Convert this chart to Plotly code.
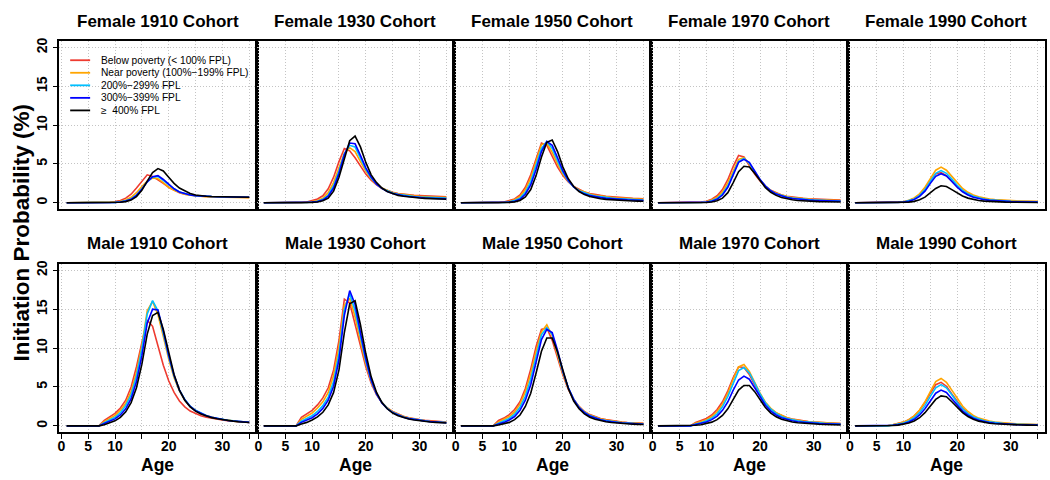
import plotly.graph_objects as go

# ---------------- data ----------------
AGES = list(range(1, 36))
GROUPS = ["Below poverty (< 100% FPL)", "Near poverty (100%\u2212199% FPL)",
          "200%\u2212299% FPL", "300%\u2212399% FPL", "\u2265  400% FPL"]
COLORS = ["#EE3B30", "#FFA500", "#00BFFF", "#0000FF", "#000000"]
PANEL_TITLES = ["Female 1910 Cohort", "Female 1930 Cohort", "Female 1950 Cohort",
                "Female 1970 Cohort", "Female 1990 Cohort",
                "Male 1910 Cohort", "Male 1930 Cohort", "Male 1950 Cohort",
                "Male 1970 Cohort", "Male 1990 Cohort"]
X_TICKS = [0, 5, 10, 15, 20, 25, 30, 35]
X_TICK_LABELS = ["0", "5", "10", "", "20", "", "30", ""]
Y_TICKS = [0, 5, 10, 15, 20]
Y_TICK_LABELS = ["0", "5", "10", "15", "20"]

F1910_R = [0, 0, 0, 0, 0, 0, 0, 0, 0.05, 0.15, 0.3, 0.6, 1.1, 1.9, 2.8, 3.6, 3.4, 3.0, 2.5, 2.0, 1.6, 1.3, 1.1, 1.0, 0.9, 0.85, 0.8, 0.78, 0.76, 0.75, 0.74, 0.73, 0.72, 0.71, 0.7]
F1910_O = [0, 0, 0, 0, 0, 0, 0, 0, 0.02, 0.08, 0.18, 0.35, 0.7, 1.3, 2.1, 2.8, 3.2, 3.1, 2.6, 2.0, 1.6, 1.3, 1.1, 0.97, 0.88, 0.82, 0.78, 0.75, 0.73, 0.71, 0.7, 0.69, 0.68, 0.67, 0.66]
F1910_C = [0, 0, 0, 0, 0, 0, 0, 0, 0.01, 0.05, 0.12, 0.25, 0.5, 1.0, 1.8, 2.7, 3.3, 3.4, 2.9, 2.3, 1.8, 1.4, 1.15, 1.0, 0.92, 0.86, 0.82, 0.8, 0.78, 0.77, 0.76, 0.75, 0.74, 0.73, 0.72]
F1910_B = [0, 0, 0, 0, 0, 0, 0, 0, 0.01, 0.04, 0.1, 0.22, 0.45, 0.95, 1.75, 2.7, 3.35, 3.5, 3.0, 2.35, 1.8, 1.4, 1.15, 1.0, 0.92, 0.86, 0.82, 0.8, 0.78, 0.77, 0.76, 0.75, 0.74, 0.73, 0.72]
F1910_K = [0, 0, 0, 0, 0, 0, 0, 0, 0.0, 0.02, 0.06, 0.15, 0.35, 0.8, 1.6, 2.8, 3.9, 4.4, 4.1, 3.3, 2.5, 1.9, 1.5, 1.2, 1.0, 0.9, 0.84, 0.8, 0.78, 0.76, 0.75, 0.74, 0.73, 0.72, 0.71]

F1930_R = [0, 0, 0, 0, 0, 0, 0, 0, 0.1, 0.25, 0.5, 0.9, 1.8, 3.3, 5.3, 7.0, 6.7, 5.8, 4.7, 3.7, 2.9, 2.3, 1.85, 1.55, 1.35, 1.2, 1.1, 1.02, 0.96, 0.92, 0.88, 0.85, 0.82, 0.8, 0.78]
F1930_O = [0, 0, 0, 0, 0, 0, 0, 0, 0.05, 0.15, 0.3, 0.6, 1.3, 2.6, 4.5, 6.4, 7.1, 6.6, 5.3, 4.1, 3.1, 2.4, 1.9, 1.55, 1.3, 1.15, 1.05, 0.95, 0.9, 0.85, 0.8, 0.77, 0.74, 0.72, 0.7]
F1930_C = [0, 0, 0, 0, 0, 0, 0, 0, 0.03, 0.1, 0.2, 0.45, 1.0, 2.2, 4.1, 6.3, 7.4, 7.2, 5.8, 4.3, 3.2, 2.4, 1.85, 1.5, 1.25, 1.08, 0.96, 0.87, 0.8, 0.74, 0.7, 0.67, 0.64, 0.62, 0.6]
F1930_B = [0, 0, 0, 0, 0, 0, 0, 0, 0.02, 0.08, 0.15, 0.35, 0.85, 1.9, 3.8, 6.2, 7.7, 7.6, 6.1, 4.5, 3.3, 2.4, 1.85, 1.45, 1.2, 1.03, 0.9, 0.8, 0.72, 0.66, 0.62, 0.59, 0.56, 0.54, 0.52]
F1930_K = [0, 0, 0, 0, 0, 0, 0, 0, 0.01, 0.05, 0.1, 0.25, 0.6, 1.5, 3.3, 5.8, 8.0, 8.6, 7.2, 5.2, 3.6, 2.6, 1.9, 1.45, 1.15, 0.95, 0.83, 0.74, 0.67, 0.61, 0.57, 0.53, 0.5, 0.48, 0.46]

F1950_R = [0, 0, 0, 0, 0, 0, 0, 0, 0.1, 0.25, 0.5, 1.0, 2.0, 3.6, 5.8, 7.7, 7.4, 6.0, 4.6, 3.5, 2.7, 2.1, 1.7, 1.4, 1.2, 1.05, 0.95, 0.85, 0.78, 0.72, 0.66, 0.62, 0.58, 0.55, 0.52]
F1950_O = [0, 0, 0, 0, 0, 0, 0, 0, 0.07, 0.18, 0.4, 0.8, 1.7, 3.2, 5.4, 7.5, 7.7, 6.5, 5.0, 3.7, 2.8, 2.1, 1.65, 1.35, 1.12, 0.97, 0.86, 0.77, 0.7, 0.64, 0.59, 0.55, 0.51, 0.48, 0.45]
F1950_C = [0, 0, 0, 0, 0, 0, 0, 0, 0.04, 0.12, 0.28, 0.6, 1.35, 2.7, 4.8, 7.0, 7.9, 7.0, 5.4, 3.9, 2.8, 2.05, 1.55, 1.25, 1.02, 0.87, 0.76, 0.67, 0.6, 0.54, 0.49, 0.45, 0.42, 0.39, 0.36]
F1950_B = [0, 0, 0, 0, 0, 0, 0, 0, 0.03, 0.08, 0.2, 0.45, 1.1, 2.3, 4.3, 6.6, 7.9, 7.4, 5.8, 4.1, 2.9, 2.05, 1.5, 1.15, 0.92, 0.77, 0.66, 0.57, 0.5, 0.45, 0.41, 0.37, 0.34, 0.31, 0.29]
F1950_K = [0, 0, 0, 0, 0, 0, 0, 0, 0.02, 0.05, 0.12, 0.3, 0.75, 1.7, 3.5, 5.9, 7.8, 8.1, 6.6, 4.6, 3.1, 2.1, 1.45, 1.05, 0.8, 0.63, 0.52, 0.44, 0.38, 0.33, 0.29, 0.26, 0.23, 0.21, 0.19]

F1970_R = [0, 0, 0, 0, 0, 0, 0, 0, 0.08, 0.2, 0.45, 0.9, 1.7, 3.0, 4.7, 6.1, 5.9, 4.8, 3.7, 2.8, 2.1, 1.6, 1.25, 1.0, 0.85, 0.73, 0.64, 0.57, 0.52, 0.48, 0.45, 0.42, 0.39, 0.37, 0.35]
F1970_O = [0, 0, 0, 0, 0, 0, 0, 0, 0.05, 0.15, 0.35, 0.7, 1.4, 2.6, 4.2, 5.6, 5.8, 5.0, 3.9, 2.9, 2.15, 1.6, 1.22, 0.96, 0.8, 0.68, 0.59, 0.52, 0.47, 0.43, 0.39, 0.36, 0.33, 0.31, 0.29]
F1970_C = [0, 0, 0, 0, 0, 0, 0, 0, 0.04, 0.1, 0.25, 0.55, 1.15, 2.2, 3.8, 5.3, 5.7, 5.1, 4.0, 2.95, 2.15, 1.55, 1.15, 0.9, 0.73, 0.61, 0.52, 0.45, 0.4, 0.36, 0.32, 0.29, 0.27, 0.25, 0.23]
F1970_B = [0, 0, 0, 0, 0, 0, 0, 0, 0.03, 0.08, 0.2, 0.45, 1.0, 2.0, 3.6, 5.2, 5.6, 5.2, 4.1, 3.0, 2.15, 1.55, 1.12, 0.85, 0.68, 0.56, 0.47, 0.4, 0.35, 0.31, 0.28, 0.25, 0.23, 0.21, 0.19]
F1970_K = [0, 0, 0, 0, 0, 0, 0, 0, 0.01, 0.04, 0.1, 0.25, 0.6, 1.3, 2.6, 4.0, 4.7, 4.6, 3.8, 2.8, 1.95, 1.35, 0.95, 0.68, 0.5, 0.38, 0.3, 0.24, 0.2, 0.17, 0.15, 0.13, 0.12, 0.11, 0.1]

F1990_R = [0, 0, 0, 0, 0, 0, 0, 0, 0.05, 0.12, 0.28, 0.55, 1.05, 1.8, 2.8, 3.7, 3.9, 3.5, 2.8, 2.1, 1.55, 1.15, 0.85, 0.65, 0.5, 0.4, 0.33, 0.28, 0.24, 0.21, 0.19, 0.17, 0.16, 0.15, 0.14]
F1990_O = [0, 0, 0, 0, 0, 0, 0, 0, 0.06, 0.14, 0.32, 0.62, 1.15, 2.0, 3.1, 4.2, 4.6, 4.2, 3.4, 2.55, 1.85, 1.35, 1.0, 0.76, 0.6, 0.48, 0.4, 0.34, 0.3, 0.27, 0.24, 0.22, 0.2, 0.19, 0.18]
F1990_C = [0, 0, 0, 0, 0, 0, 0, 0, 0.04, 0.1, 0.25, 0.5, 0.95, 1.7, 2.75, 3.8, 4.15, 3.8, 3.05, 2.25, 1.6, 1.15, 0.83, 0.62, 0.47, 0.37, 0.3, 0.25, 0.21, 0.18, 0.16, 0.14, 0.13, 0.12, 0.11]
F1990_B = [0, 0, 0, 0, 0, 0, 0, 0, 0.03, 0.08, 0.2, 0.42, 0.82, 1.5, 2.5, 3.4, 3.75, 3.45, 2.75, 2.0, 1.42, 1.0, 0.72, 0.53, 0.4, 0.31, 0.25, 0.2, 0.17, 0.15, 0.13, 0.11, 0.1, 0.09, 0.08]
F1990_K = [0, 0, 0, 0, 0, 0, 0, 0, 0.01, 0.03, 0.08, 0.18, 0.38, 0.72, 1.25, 1.85, 2.2, 2.1, 1.7, 1.25, 0.88, 0.6, 0.41, 0.29, 0.21, 0.16, 0.12, 0.1, 0.08, 0.07, 0.06, 0.05, 0.05, 0.04, 0.04]

M1910_R = [0, 0, 0, 0, 0, 0, 0, 0.7, 1.1, 1.6, 2.3, 3.3, 5.0, 7.6, 10.7, 13.6, 12.8, 10.3, 7.8, 5.8, 4.3, 3.2, 2.45, 1.9, 1.55, 1.3, 1.12, 0.98, 0.87, 0.77, 0.68, 0.6, 0.54, 0.49, 0.45]
M1910_O = [0, 0, 0, 0, 0, 0, 0, 0.55, 0.9, 1.35, 2.0, 2.9, 4.4, 6.9, 10.3, 14.8, 16.0, 14.3, 11.5, 8.6, 6.2, 4.5, 3.3, 2.5, 2.0, 1.6, 1.32, 1.1, 0.94, 0.81, 0.7, 0.62, 0.55, 0.5, 0.46]
M1910_C = [0, 0, 0, 0, 0, 0, 0, 0.4, 0.7, 1.1, 1.7, 2.6, 4.0, 6.4, 9.9, 14.4, 16.1, 14.8, 11.9, 8.9, 6.4, 4.6, 3.4, 2.55, 2.0, 1.62, 1.34, 1.12, 0.96, 0.83, 0.72, 0.64, 0.57, 0.51, 0.47]
M1910_B = [0, 0, 0, 0, 0, 0, 0, 0.3, 0.55, 0.9, 1.4, 2.2, 3.5, 5.7, 9.0, 13.2, 15.0, 14.9, 12.2, 9.1, 6.5, 4.6, 3.35, 2.5, 1.95, 1.58, 1.3, 1.1, 0.94, 0.81, 0.7, 0.62, 0.55, 0.5, 0.45]
M1910_K = [0, 0, 0, 0, 0, 0, 0, 0.15, 0.35, 0.65, 1.1, 1.8, 3.0, 4.9, 7.9, 11.8, 14.2, 14.6, 12.4, 9.3, 6.6, 4.6, 3.3, 2.45, 1.9, 1.52, 1.26, 1.06, 0.91, 0.79, 0.69, 0.61, 0.54, 0.49, 0.44]

M1930_R = [0, 0, 0, 0, 0, 0, 0, 1.1, 1.5, 2.0, 2.7, 3.6, 4.9, 7.2, 11.0, 16.3, 15.8, 13.0, 10.2, 7.6, 5.5, 4.0, 3.0, 2.3, 1.85, 1.5, 1.25, 1.05, 0.9, 0.8, 0.72, 0.65, 0.6, 0.55, 0.5]
M1930_O = [0, 0, 0, 0, 0, 0, 0, 0.85, 1.2, 1.65, 2.3, 3.1, 4.3, 6.5, 10.2, 15.5, 16.4, 14.0, 10.9, 8.0, 5.7, 4.1, 3.0, 2.3, 1.8, 1.45, 1.2, 1.0, 0.87, 0.76, 0.67, 0.6, 0.54, 0.5, 0.46]
M1930_C = [0, 0, 0, 0, 0, 0, 0, 0.6, 0.9, 1.3, 1.85, 2.6, 3.7, 5.7, 9.3, 14.9, 17.0, 14.8, 11.5, 8.3, 5.8, 4.1, 3.0, 2.25, 1.75, 1.4, 1.15, 0.97, 0.84, 0.73, 0.64, 0.57, 0.52, 0.47, 0.43]
M1930_B = [0, 0, 0, 0, 0, 0, 0, 0.45, 0.7, 1.05, 1.55, 2.25, 3.3, 5.1, 8.5, 14.2, 17.4, 15.6, 12.0, 8.6, 5.9, 4.1, 2.95, 2.2, 1.7, 1.35, 1.1, 0.93, 0.8, 0.7, 0.62, 0.55, 0.5, 0.45, 0.41]
M1930_K = [0, 0, 0, 0, 0, 0, 0, 0.25, 0.45, 0.75, 1.15, 1.75, 2.7, 4.3, 7.2, 12.0, 15.7, 16.1, 13.0, 9.3, 6.3, 4.3, 3.0, 2.2, 1.65, 1.3, 1.05, 0.88, 0.75, 0.65, 0.57, 0.5, 0.45, 0.41, 0.37]

M1950_R = [0, 0, 0, 0, 0, 0, 0, 0.7, 1.0, 1.45, 2.1, 3.1, 4.8, 7.3, 10.2, 12.4, 12.6, 11.0, 8.7, 6.5, 4.7, 3.4, 2.5, 1.85, 1.45, 1.15, 0.95, 0.8, 0.68, 0.58, 0.5, 0.44, 0.39, 0.35, 0.32]
M1950_O = [0, 0, 0, 0, 0, 0, 0, 0.5, 0.8, 1.2, 1.8, 2.8, 4.4, 6.7, 9.6, 12.1, 13.0, 11.6, 9.1, 6.7, 4.8, 3.4, 2.45, 1.8, 1.4, 1.1, 0.9, 0.75, 0.63, 0.54, 0.47, 0.41, 0.36, 0.32, 0.29]
M1950_C = [0, 0, 0, 0, 0, 0, 0, 0.35, 0.6, 0.95, 1.5, 2.4, 3.8, 6.0, 8.9, 11.7, 12.6, 11.8, 9.4, 6.9, 4.9, 3.4, 2.4, 1.75, 1.32, 1.03, 0.83, 0.68, 0.57, 0.48, 0.41, 0.36, 0.32, 0.28, 0.25]
M1950_B = [0, 0, 0, 0, 0, 0, 0, 0.25, 0.45, 0.75, 1.2, 2.0, 3.3, 5.3, 8.2, 11.1, 12.4, 12.0, 9.7, 7.0, 4.9, 3.4, 2.35, 1.7, 1.27, 0.98, 0.78, 0.63, 0.52, 0.44, 0.38, 0.33, 0.29, 0.25, 0.22]
M1950_K = [0, 0, 0, 0, 0, 0, 0, 0.12, 0.25, 0.45, 0.8, 1.4, 2.5, 4.2, 6.8, 9.6, 11.3, 11.3, 9.5, 7.0, 4.8, 3.2, 2.2, 1.55, 1.12, 0.85, 0.66, 0.52, 0.43, 0.36, 0.3, 0.26, 0.22, 0.19, 0.17]

M1970_R = [0, 0, 0, 0, 0, 0, 0, 0.45, 0.65, 0.95, 1.4, 2.1, 3.1, 4.5, 6.2, 7.6, 7.5, 6.6, 5.3, 4.0, 2.95, 2.2, 1.65, 1.3, 1.05, 0.87, 0.74, 0.64, 0.56, 0.5, 0.45, 0.41, 0.37, 0.34, 0.31]
M1970_O = [0, 0, 0, 0, 0, 0, 0, 0.35, 0.55, 0.8, 1.2, 1.85, 2.8, 4.2, 6.0, 7.6, 7.9, 7.0, 5.6, 4.2, 3.05, 2.25, 1.7, 1.32, 1.05, 0.86, 0.72, 0.62, 0.54, 0.48, 0.43, 0.39, 0.35, 0.32, 0.29]
M1970_C = [0, 0, 0, 0, 0, 0, 0, 0.25, 0.4, 0.65, 1.0, 1.55, 2.45, 3.8, 5.5, 7.1, 7.5, 6.8, 5.5, 4.1, 2.95, 2.15, 1.6, 1.22, 0.96, 0.78, 0.65, 0.55, 0.48, 0.42, 0.37, 0.33, 0.3, 0.27, 0.25]
M1970_B = [0, 0, 0, 0, 0, 0, 0, 0.18, 0.3, 0.5, 0.8, 1.25, 2.0, 3.1, 4.6, 5.9, 6.4, 6.0, 4.9, 3.7, 2.65, 1.9, 1.4, 1.05, 0.82, 0.66, 0.54, 0.46, 0.39, 0.34, 0.3, 0.27, 0.24, 0.22, 0.2]
M1970_K = [0, 0, 0, 0, 0, 0, 0, 0.08, 0.15, 0.28, 0.48, 0.8, 1.35, 2.2, 3.4, 4.6, 5.2, 5.2, 4.4, 3.3, 2.35, 1.65, 1.17, 0.85, 0.64, 0.5, 0.4, 0.33, 0.27, 0.23, 0.2, 0.17, 0.15, 0.13, 0.12]

M1990_R = [0, 0, 0, 0, 0, 0, 0, 0.15, 0.28, 0.48, 0.8, 1.3, 2.0, 3.0, 4.2, 5.3, 5.6, 5.1, 4.1, 3.1, 2.25, 1.6, 1.15, 0.85, 0.65, 0.51, 0.41, 0.34, 0.29, 0.25, 0.22, 0.2, 0.18, 0.16, 0.15]
M1990_O = [0, 0, 0, 0, 0, 0, 0, 0.15, 0.28, 0.48, 0.8, 1.3, 2.05, 3.1, 4.4, 5.7, 6.1, 5.6, 4.6, 3.5, 2.55, 1.85, 1.35, 1.0, 0.77, 0.61, 0.5, 0.42, 0.36, 0.31, 0.27, 0.24, 0.22, 0.2, 0.18]
M1990_C = [0, 0, 0, 0, 0, 0, 0, 0.1, 0.2, 0.36, 0.62, 1.05, 1.7, 2.6, 3.8, 4.9, 5.3, 4.9, 4.0, 3.0, 2.2, 1.58, 1.15, 0.85, 0.65, 0.51, 0.41, 0.34, 0.28, 0.24, 0.21, 0.18, 0.16, 0.15, 0.13]
M1990_B = [0, 0, 0, 0, 0, 0, 0, 0.08, 0.16, 0.28, 0.5, 0.85, 1.4, 2.2, 3.2, 4.2, 4.6, 4.3, 3.5, 2.65, 1.9, 1.37, 0.98, 0.72, 0.54, 0.42, 0.33, 0.27, 0.22, 0.19, 0.16, 0.14, 0.12, 0.11, 0.1]
M1990_K = [0, 0, 0, 0, 0, 0, 0, 0.05, 0.1, 0.2, 0.36, 0.62, 1.05, 1.7, 2.55, 3.4, 3.85, 3.75, 3.1, 2.35, 1.7, 1.2, 0.85, 0.61, 0.45, 0.34, 0.27, 0.22, 0.18, 0.15, 0.13, 0.11, 0.1, 0.09, 0.08]

PANELS = [
    [F1910_R, F1910_O, F1910_C, F1910_B, F1910_K],
    [F1930_R, F1930_O, F1930_C, F1930_B, F1930_K],
    [F1950_R, F1950_O, F1950_C, F1950_B, F1950_K],
    [F1970_R, F1970_O, F1970_C, F1970_B, F1970_K],
    [F1990_R, F1990_O, F1990_C, F1990_B, F1990_K],
    [M1910_R, M1910_O, M1910_C, M1910_B, M1910_K],
    [M1930_R, M1930_O, M1930_C, M1930_B, M1930_K],
    [M1950_R, M1950_O, M1950_C, M1950_B, M1950_K],
    [M1970_R, M1970_O, M1970_C, M1970_B, M1970_K],
    [M1990_R, M1990_O, M1990_C, M1990_B, M1990_K],
]

# ---------------- layout geometry (pixels) ----------------
W, H = 1050, 480
LEFT, PW = 57.5, 197.5
ROWS_PX = [(37.7, 206.7), (262.3, 431.7)]
FONT = "Arial, Liberation Sans, sans-serif"


def px(x):
    return x / W


def py(y):
    return 1 - y / H


fig = go.Figure()
layout = dict(
    width=W, height=H, margin=dict(l=0, r=0, t=0, b=0),
    paper_bgcolor="white", plot_bgcolor="white", showlegend=False,
    font=dict(family=FONT, color="black"),
)
annotations = []
shapes = []

for p, series in enumerate(PANELS):
    r, c = divmod(p, 5)
    k = p + 1
    xa = "x" if k == 1 else f"x{k}"
    ya = "y" if k == 1 else f"y{k}"
    for vals, col, name in zip(series, COLORS, GROUPS):
        fig.add_trace(go.Scatter(x=AGES, y=vals, mode="lines", name=name,
                                 line=dict(color=col, width=1.6),
                                 xaxis=xa, yaxis=ya, hoverinfo="skip"))
    x0, x1 = LEFT + c * PW, LEFT + (c + 1) * PW
    y0, y1 = ROWS_PX[r]
    bottom = (r == 1)
    first = (c == 0)
    layout["xaxis" if k == 1 else f"xaxis{k}"] = dict(
        domain=[px(x0), px(x1)], anchor=ya, range=[-0.36, 36.36],
        tickvals=X_TICKS, ticktext=X_TICK_LABELS,
        showticklabels=bottom, ticks="outside" if bottom else "",
        ticklen=5, tickwidth=1.3, tickcolor="black", ticklabelstandoff=-5,
        tickfont=dict(family=FONT, size=14, weight="bold", color="black"),
        showgrid=True, gridcolor="#C4C4C4", griddash="1px,2px", gridwidth=1,
        showline=True, mirror=True, linecolor="black", linewidth=1.5,
        zeroline=False, fixedrange=True,
    )
    layout["yaxis" if k == 1 else f"yaxis{k}"] = dict(
        domain=[py(y1), py(y0)], anchor=xa, range=[-0.8, 20.8],
        tickvals=Y_TICKS, ticktext=Y_TICK_LABELS,
        showticklabels=first, ticks="outside" if first else "",
        ticklen=5, tickwidth=1.3, tickcolor="black", tickangle=-90,
        tickfont=dict(family=FONT, size=14, weight="bold", color="black"),
        showgrid=True, gridcolor="#C4C4C4", griddash="1px,2px", gridwidth=1,
        showline=True, mirror=True, linecolor="black", linewidth=1.5,
        zeroline=False, fixedrange=True,
    )
    # panel title
    annotations.append(dict(
        text=PANEL_TITLES[p], x=px((x0 + x1) / 2), y=py(y0 - 20.5),
        xref="paper", yref="paper", showarrow=False,
        xanchor="center", yanchor="middle",
        font=dict(family=FONT, size=17, weight="bold", color="black")))
    if bottom:
        annotations.append(dict(
            text="Age", x=px((x0 + x1) / 2), y=py(464.5),
            xref="paper", yref="paper", showarrow=False,
            xanchor="center", yanchor="middle",
            font=dict(family=FONT, size=17.5, weight="bold", color="black")))

# y-axis title
annotations.append(dict(
    text="Initiation Probability (%)", x=px(19.5), y=py(230),
    xref="paper", yref="paper", showarrow=False, textangle=-90,
    xanchor="center", yanchor="middle",
    font=dict(family=FONT, size=22.5, weight="bold", color="black")))

# legend inside first panel
for i, (name, col) in enumerate(zip(GROUPS, COLORS)):
    yy = 56.7 + 12.65 * i
    shapes.append(dict(type="line", xref="paper", yref="paper",
                       x0=px(68.3), x1=px(88.3), y0=py(yy), y1=py(yy),
                       line=dict(color=col, width=1.8)))
    annotations.append(dict(
        text=name, x=px(97.3), y=py(yy), xref="paper", yref="paper",
        showarrow=False, xanchor="left", yanchor="middle",
        font=dict(family=FONT, size=10.2, color="black")))

layout["annotations"] = annotations
layout["shapes"] = shapes
fig.update_layout(**layout)
fig.write_html("out.html", config={"displayModeBar": False},
               post_script="document.body.style.margin='0';document.body.style.padding='0';")
